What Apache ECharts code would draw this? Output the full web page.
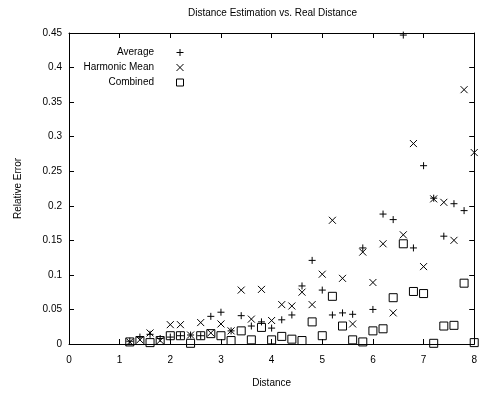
<!DOCTYPE html>
<html>
<head>
<meta charset="utf-8">
<script src="https://cdn.jsdelivr.net/npm/echarts@6/dist/echarts.min.js"></script>
<style>
html,body{margin:0;padding:0;background:#fff;}
#c{width:480px;height:393px;}
</style>
</head>
<body>
<div id="c"></div>
<script>
var distances = [1.2,1.4,1.6,1.8,2.0,2.2,2.4,2.6,2.8,3.0,3.2,3.4,3.6,3.8,4.0,4.2,4.4,4.6,4.8,5.0,5.2,5.4,5.6,5.8,6.0,6.2,6.4,6.6,6.8,7.0,7.2,7.4,7.6,7.8,8.0];
var average = [0.004,0.010,0.014,0.008,0.010,0.012,0.013,0.012,0.040,0.046,0.019,0.041,0.026,0.032,0.023,0.035,0.042,0.084,0.121,0.078,0.042,0.045,0.043,0.139,0.050,0.188,0.180,0.447,0.139,0.258,0.211,0.156,0.203,0.193,null];
var harmonicMean = [0.003,0.006,0.016,0.005,0.028,0.028,0.013,0.031,0.016,0.029,0.019,0.078,0.036,0.079,0.034,0.057,0.055,0.075,0.057,0.101,0.179,0.095,0.029,0.133,0.089,0.145,0.045,0.158,0.290,0.112,0.210,0.205,0.150,0.368,0.277];
var combined = [0.003,0.005,0.002,0.005,0.012,0.012,0.001,0.012,0.015,0.012,0.005,0.019,0.006,0.024,0.006,0.011,0.007,0.005,0.032,0.012,0.069,0.026,0.006,0.003,0.019,0.022,0.067,0.145,0.076,0.073,0.001,0.026,0.027,0.088,0.002];
var xTicks = [0,1,2,3,4,5,6,7,8];
var yTicks = [0,0.05,0.1,0.15,0.2,0.25,0.3,0.35,0.4,0.45];

function pairs(vals){
  var out = [];
  for (var i = 0; i < distances.length; i++) {
    if (vals[i] !== null) out.push([distances[i], vals[i]]);
  }
  return out;
}

var FONT = 'Liberation Sans, Arial, sans-serif';
var PLUS = 'path://M0,5L10,5M5,0L5,10';
var CROSS = 'path://M0,0L10,10M0,10L10,0';
var BOX = 'path://M0,0L10,0L10,10L0,10Z';

function sym(name, symbol, size, vals){
  return {
    name: name, type: 'scatter', symbol: symbol, symbolSize: size,
    symbolKeepAspect: true,
    data: pairs(vals), silent: true, animation: false,
    itemStyle: {color: 'rgba(0,0,0,0)', borderColor: '#000', borderWidth: 1, opacity: 1}
  };
}

var axisBase = {
  axisLine: {show: true, onZero: false, lineStyle: {color: '#000', width: 1}},
  axisTick: {show: true, inside: true, length: 5, lineStyle: {color: '#000', width: 1}},
  splitLine: {show: false}
};

var chart = echarts.init(document.getElementById('c'), null, {renderer: 'canvas'});
chart.setOption({
  backgroundColor: '#fff',
  animation: false,
  title: {
    text: 'Distance Estimation vs. Real Distance',
    left: 188, top: 8, padding: 0,
    textStyle: {fontFamily: FONT, fontSize: 10, fontWeight: 'normal', color: '#000'}
  },
  legend: {
    orient: 'vertical', align: 'right',
    right: 296, top: 47.5, padding: 0,
    itemWidth: 42, itemHeight: 7, itemGap: 5,
    selectedMode: false,
    itemStyle: {borderWidth: 1, borderColor: '#000', color: 'rgba(0,0,0,0)'},
    textStyle: {fontFamily: FONT, fontSize: 10, color: '#000', lineHeight: 10},
    data: ['Average', 'Harmonic Mean', 'Combined']
  },
  grid: {left: 69, right: 1.5, top: 33, bottom: 48, containLabel: false},
  xAxis: [
    Object.assign({}, axisBase, {
      type: 'value', position: 'bottom', min: xTicks[0], max: xTicks[xTicks.length-1], interval: 1,
      name: 'Distance', nameLocation: 'middle', nameGap: 34,
      nameTextStyle: {fontFamily: FONT, fontSize: 10, color: '#000'},
      axisLabel: {fontFamily: FONT, fontSize: 10, color: '#000', margin: 11}
    }),
    Object.assign({}, axisBase, {
      type: 'value', position: 'top', min: xTicks[0], max: xTicks[xTicks.length-1], interval: 1,
      axisLabel: {show: false}
    })
  ],
  yAxis: [
    Object.assign({}, axisBase, {
      type: 'value', position: 'left', min: yTicks[0], max: yTicks[yTicks.length-1], interval: 0.05,
      name: 'Relative Error', nameLocation: 'middle', nameGap: 46, nameRotate: 90,
      nameTextStyle: {fontFamily: FONT, fontSize: 10, color: '#000'},
      axisLabel: {fontFamily: FONT, fontSize: 10, color: '#000', margin: 7}
    }),
    Object.assign({}, axisBase, {
      type: 'value', position: 'right', min: yTicks[0], max: yTicks[yTicks.length-1], interval: 0.05,
      axisLabel: {show: false}
    })
  ],
  series: [
    sym('Average', PLUS, 7, average),
    sym('Harmonic Mean', CROSS, 7, harmonicMean),
    sym('Combined', BOX, 8, combined)
  ]
});
</script>
</body>
</html>
